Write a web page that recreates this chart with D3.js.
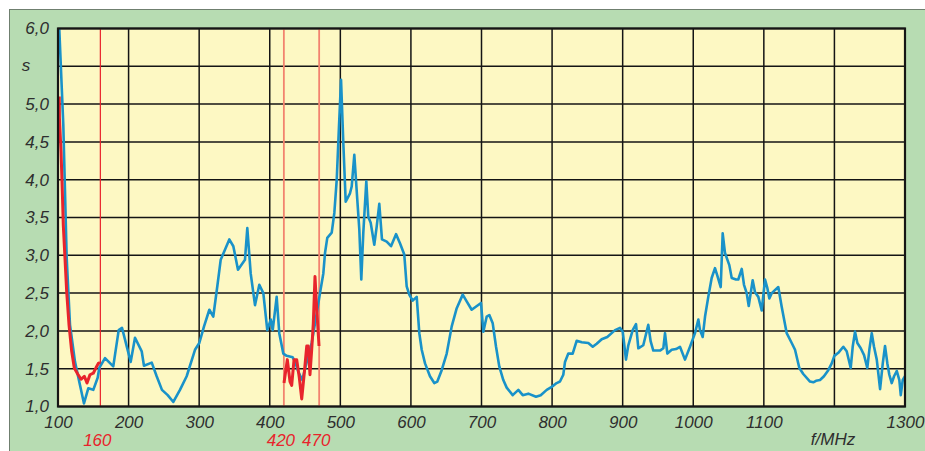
<!DOCTYPE html>
<html>
<head>
<meta charset="utf-8">
<script src="https://cdn.jsdelivr.net/npm/d3@7"></script>
<style>
  html, body { margin: 0; padding: 0; background: #ffffff; }
  svg { display: block; }
  text { font-family: "Liberation Sans", Arial, sans-serif; font-style: italic; }
</style>
</head>
<body>
<svg id="chart" width="925" height="451"></svg>
<script>
// ---------- data ----------
const xTicks = [100, 200, 300, 400, 500, 600, 700, 800, 900, 1000, 1100, 1200, 1300];
const xTickLabels = ["100", "200", "300", "400", "500", "600", "700", "800", "900", "1000", "1100", "", "1300"];
const yTicks = [1.0, 1.5, 2.0, 2.5, 3.0, 3.5, 4.0, 4.5, 5.0, 5.5, 6.0];
const yTickLabels = ["1,0", "1,5", "2,0", "2,5", "3,0", "3,5", "4,0", "4,5", "5,0", "", "6,0"];
const markerFreqs = [160, 420, 470];
const markerLabels = ["160", "420", "470"];
const yUnit = "s";
const xUnit = "f/MHz";

// blue series: SWR over frequency (MHz)
const blueFreq = [101.8, 107.5, 112.3, 117.0, 124.1, 131.2, 136.8, 142.9, 150.0, 156.2, 158.5, 166.6, 178.3, 186.0, 190.7,
  203.0, 209.1, 218.6, 221.8, 232.8, 239.8, 247.3, 255.4, 263.4, 272.8, 282.3, 294.1, 300.2, 306.9, 314.4, 320.0, 325.7,
  330.5, 342.7, 348.4, 355.0, 364.9, 368.2, 373.0, 379.1, 385.2, 390.9, 396.5, 401.4, 404.2, 409.8, 413.5, 419.2, 424.0,
  432.5, 435.8, 440.5, 446.1, 453.2, 459.4, 466.5, 471.2, 475.9, 478.3, 481.5, 487.8, 491.5, 494.9, 498.1, 501.0, 504.2,
  507.6, 513.7, 516.1, 519.8, 524.0, 526.9, 529.7, 532.5, 536.8, 539.6, 543.0, 548.1, 551.5, 555.2, 559.0, 565.7, 571.8,
  578.9, 584.5, 590.6, 594.0, 597.7, 602.5, 608.2, 611.9, 615.3, 620.0, 627.0, 633.1, 637.4, 643.6, 650.7, 657.8, 664.9,
  673.4, 679.0, 686.1, 699.3, 702.6, 707.4, 711.1, 715.9, 720.6, 725.2, 730.9, 735.7, 744.2, 752.2, 758.4, 766.3, 777.2,
  783.9, 792.4, 799.5, 806.5, 811.2, 815.9, 818.3, 823.0, 829.2, 834.9, 842.0, 851.3, 857.6, 863.2, 870.3, 878.2, 889.2,
  896.2, 900.1, 904.7, 908.0, 914.2, 918.9, 922.2, 929.2, 936.3, 939.7, 943.4, 952.9, 957.6, 960.0, 963.3, 969.5, 975.6,
  981.2, 988.3, 995.4, 1002.5, 1007.2, 1009.6, 1013.4, 1016.7, 1021.3, 1026.1, 1030.8, 1034.1, 1038.9, 1041.7, 1045.0,
  1051.1, 1054.5, 1060.6, 1063.8, 1068.7, 1071.9, 1075.7, 1078.6, 1081.4, 1084.2, 1087.5, 1092.2, 1097.0, 1101.7, 1104.9,
  1107.8, 1111.2, 1120.5, 1125.3, 1132.4, 1139.5, 1144.2, 1150.3, 1155.9, 1165.4, 1170.1, 1173.9, 1179.6, 1185.2, 1191.3,
  1196.2, 1199.9, 1205.5, 1212.6, 1217.4, 1223.1, 1225.9, 1229.2, 1232.5, 1237.3, 1242.0, 1246.6, 1249.5, 1252.9, 1256.1,
  1260.0, 1264.7, 1268.5, 1271.7, 1275.0, 1277.8, 1281.2, 1284.5, 1288.3, 1292.0, 1294.0, 1296.8, 1300.0];
const blueSwr = [6.00, 4.73, 2.97, 2.08, 1.59, 1.28, 1.04, 1.24, 1.22, 1.38, 1.51, 1.64, 1.53, 2.01, 2.04,
  1.59, 1.91, 1.73, 1.54, 1.58, 1.40, 1.22, 1.15, 1.06, 1.22, 1.40, 1.75, 1.84, 2.06, 2.28, 2.19, 2.59,
  2.94, 3.21, 3.12, 2.81, 2.94, 3.36, 2.76, 2.34, 2.61, 2.50, 2.01, 2.15, 2.01, 2.45, 1.97, 1.70, 1.67,
  1.65, 1.59, 1.46, 1.35, 1.62, 1.84, 2.23, 2.50, 2.76, 3.03, 3.23, 3.30, 3.56, 4.00, 4.71, 5.32, 4.49,
  3.71, 3.82, 3.91, 4.33, 3.74, 3.34, 2.68, 3.29, 3.98, 3.51, 3.43, 3.14, 3.38, 3.68, 3.21, 3.18, 3.12,
  3.28, 3.16, 3.01, 2.59, 2.48, 2.40, 2.45, 1.97, 1.75, 1.57, 1.40, 1.31, 1.33, 1.48, 1.70, 2.06, 2.30,
  2.48, 2.39, 2.28, 2.37, 1.99, 2.19, 2.21, 2.10, 1.79, 1.53, 1.35, 1.25, 1.15, 1.22, 1.15, 1.17, 1.13,
  1.15, 1.22, 1.26, 1.31, 1.33, 1.42, 1.59, 1.70, 1.70, 1.87, 1.85, 1.84, 1.79, 1.83, 1.89, 1.92, 2.01,
  2.04, 1.99, 1.62, 1.81, 2.01, 2.09, 1.77, 1.81, 2.08, 1.86, 1.74, 1.74, 1.77, 1.97, 1.70, 1.75, 1.76,
  1.79, 1.62, 1.79, 1.97, 2.15, 2.01, 1.92, 2.19, 2.45, 2.70, 2.83, 2.73, 2.58, 3.29, 3.03,
  2.87, 2.70, 2.68, 2.68, 2.82, 2.61, 2.50, 2.33, 2.50, 2.67, 2.51, 2.45, 2.27, 2.68, 2.57,
  2.43, 2.50, 2.58, 2.32, 1.97, 1.84, 1.75, 1.51, 1.43, 1.33, 1.32, 1.34, 1.35, 1.40, 1.48,
  1.57, 1.67, 1.71, 1.79, 1.73, 1.51, 1.79, 1.99, 1.84, 1.77, 1.68, 1.51, 1.75, 1.97, 1.79,
  1.62, 1.23, 1.57, 1.80, 1.57, 1.42, 1.31, 1.40, 1.47, 1.35, 1.15, 1.35, 1.40];

// red series, band 1 (100..160 MHz)
const red1Freq = [101.8, 102.0, 104.3, 106.1, 107.5, 109.9, 112.3, 115.6, 119.4, 123.1, 127.9, 132.6, 137.3, 141.1, 145.3, 150.0, 154.8, 157.1, 159.5];
const red1Swr  = [5.10, 4.82, 4.37, 3.85, 3.40, 2.96, 2.52, 2.08, 1.73, 1.51, 1.43, 1.36, 1.40, 1.31, 1.42, 1.44, 1.53, 1.57, 1.58];
// red series, band 2 (420..470 MHz)
const red2Freq = [420.2, 424.9, 428.7, 431.1, 434.4, 438.2, 441.9, 445.3, 448.9, 452.4, 454.6, 457.0, 459.4, 461.7, 464.1, 466.5, 469.8];
const red2Swr  = [1.31, 1.62, 1.33, 1.28, 1.62, 1.62, 1.38, 1.10, 1.44, 1.80, 1.80, 1.42, 1.75, 2.10, 2.72, 2.30, 1.80];

// ---------- drawing ----------
const svg = d3.select("#chart");
const W = 925, H = 451;
const plot = { left: 58, right: 905, top: 28.5, bottom: 406.5 };

const x = d3.scaleLinear().domain([100, 1300]).range([plot.left, plot.right]);
const y = d3.scaleLinear().domain([1, 6]).range([plot.bottom, plot.top]);

// outer green frame
svg.append("rect").attr("x", 9.5).attr("y", 9.5).attr("width", W).attr("height", H)
  .attr("fill", "#b7dcb2").attr("stroke", "#6f7f6f").attr("stroke-width", 1);

// plot background
svg.append("rect").attr("x", plot.left).attr("y", plot.top)
  .attr("width", plot.right - plot.left).attr("height", plot.bottom - plot.top)
  .attr("fill", "#fdf8c3");

// grid
const grid = svg.append("g").attr("stroke", "#141414").attr("stroke-width", 1.5);
grid.selectAll("line.h").data(yTicks).join("line").attr("class", "h")
  .attr("x1", plot.left).attr("x2", plot.right)
  .attr("y1", d => y(d)).attr("y2", d => y(d));
grid.selectAll("line.v").data(xTicks).join("line").attr("class", "v")
  .attr("y1", plot.top).attr("y2", plot.bottom)
  .attr("x1", d => x(d)).attr("x2", d => x(d));

// marker lines
svg.append("g").selectAll("line").data(markerFreqs).join("line")
  .attr("x1", d => x(d)).attr("x2", d => x(d))
  .attr("y1", plot.top).attr("y2", plot.bottom)
  .attr("stroke", (d, i) => i === 0 ? "#e8202a" : "#f2836f")
  .attr("stroke-width", (d, i) => i === 0 ? 1.2 : 1.8);

// curves
const line = d3.line().x(d => x(d[0])).y(d => y(d[1]));
const clipId = "plotclip";
svg.append("clipPath").attr("id", clipId).append("rect")
  .attr("x", plot.left).attr("y", plot.top - 1)
  .attr("width", plot.right - plot.left).attr("height", plot.bottom - plot.top + 2);

const curves = svg.append("g").attr("clip-path", `url(#${clipId})`)
  .attr("fill", "none").attr("stroke-linejoin", "round");
curves.append("path").datum(d3.zip(blueFreq, blueSwr))
  .attr("d", line).attr("stroke", "#1992c9").attr("stroke-width", 2.6);
curves.append("path").datum(d3.zip(red1Freq, red1Swr))
  .attr("d", line).attr("stroke", "#e8242c").attr("stroke-width", 3);
curves.append("path").datum(d3.zip(red2Freq, red2Swr))
  .attr("d", line).attr("stroke", "#e8242c").attr("stroke-width", 3);

// plot frame
svg.append("rect").attr("x", plot.left).attr("y", plot.top)
  .attr("width", plot.right - plot.left).attr("height", plot.bottom - plot.top)
  .attr("fill", "none").attr("stroke", "#151515").attr("stroke-width", 2.2);

// axes (labels only)
const yAxis = d3.axisLeft(y).tickValues(yTicks).tickSize(0).tickPadding(9)
  .tickFormat((d, i) => yTickLabels[i]);
const gy = svg.append("g").attr("transform", `translate(${plot.left},0)`).call(yAxis);
gy.select(".domain").remove();
gy.selectAll("text").attr("font-size", 17).attr("fill", "#2e2e2e")
  .attr("font-family", "'Liberation Sans', Arial, sans-serif").attr("font-style", "italic");

const xAxis = d3.axisBottom(x).tickValues(xTicks).tickSize(0).tickPadding(9)
  .tickFormat((d, i) => xTickLabels[i]);
const gx = svg.append("g").attr("transform", `translate(0,${plot.bottom})`).call(xAxis);
gx.select(".domain").remove();
gx.selectAll("text").attr("font-size", 17).attr("fill", "#2e2e2e")
  .attr("font-family", "'Liberation Sans', Arial, sans-serif").attr("font-style", "italic");

// marker labels
svg.append("g").selectAll("text").data(markerFreqs).join("text")
  .attr("x", d => x(d) - 3).attr("y", 446)
  .attr("text-anchor", "middle").attr("font-size", 17).attr("fill", "#e8242c")
  .text((d, i) => markerLabels[i]);

// unit labels
svg.append("text").attr("x", 26).attr("y", y(5.5) + 5).attr("text-anchor", "middle")
  .attr("font-size", 17).attr("fill", "#2e2e2e").text(yUnit);
svg.append("text").attr("x", 833).attr("y", 445).attr("text-anchor", "middle")
  .attr("font-size", 17).attr("fill", "#2e2e2e").text(xUnit);
</script>
</body>
</html>
